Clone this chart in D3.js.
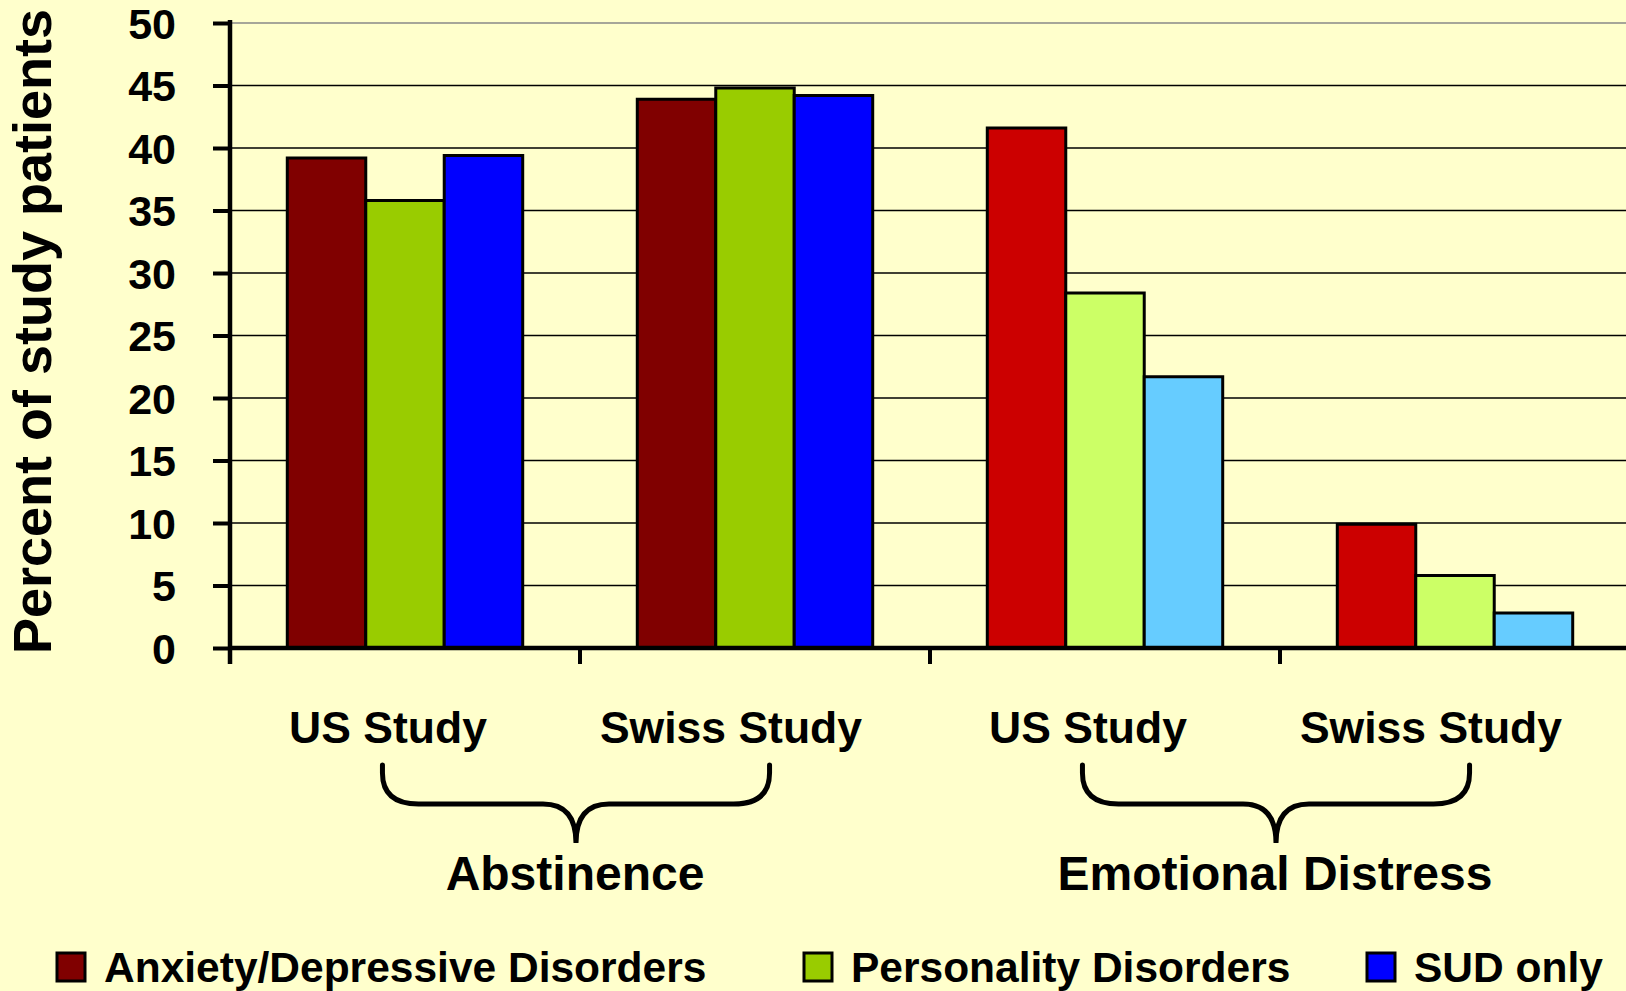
<!DOCTYPE html>
<html>
<head>
<meta charset="utf-8">
<script src="https://cdn.jsdelivr.net/npm/d3@7"></script>
<style>
  html, body { margin: 0; padding: 0; background: #FFFFCC; overflow: hidden; }
  text { font-family: "Liberation Sans", Arial, sans-serif; font-weight: bold; fill: #000; }
</style>
</head>
<body>
<div id="chart"></div>
<script>
// data
const studyLabels = ["US Study", "Swiss Study", "US Study", "Swiss Study"];
const measureLabels = ["Abstinence", "Emotional Distress"];
const seriesNames = ["Anxiety/Depressive Disorders", "Personality Disorders", "SUD only"];
const abstinenceUS = [39.2, 35.8, 39.4];
const abstinenceSwiss = [43.9, 44.8, 44.2];
const distressUS = [41.6, 28.4, 21.7];
const distressSwiss = [9.9, 5.8, 2.8];
const yTicks = [0, 5, 10, 15, 20, 25, 30, 35, 40, 45, 50];
const abstinenceColors = ["#800000", "#99CC00", "#0000FF"];
const distressColors = ["#CC0000", "#CCFF66", "#66CCFF"];

const groups = [
    {measure: 0, study: studyLabels[0], values: abstinenceUS, colors: abstinenceColors},
    {measure: 0, study: studyLabels[1], values: abstinenceSwiss, colors: abstinenceColors},
    {measure: 1, study: studyLabels[2], values: distressUS, colors: distressColors},
    {measure: 1, study: studyLabels[3], values: distressSwiss, colors: distressColors}
];

// set dimensions
const width = 1626,
    height = 991,
    margin = {top: 23, left: 230, bottom: 648};

const svg = d3.select("#chart")
    .append("svg")
    .attr("width", width)
    .attr("height", height);

svg.append("rect")
    .attr("width", width)
    .attr("height", height)
    .attr("fill", "#FFFFCC");

// scales
const y = d3.scaleLinear()
    .domain([0, 50])
    .range([margin.bottom, margin.top]);

const x0 = d3.scaleBand()
    .domain(d3.range(groups.length))
    .range([margin.left, margin.left + 350 * 4])
    .padding(0);

const x1 = d3.scaleBand()
    .domain(seriesNames)
    .range([0, x0.bandwidth()])
    .paddingInner(0)
    .paddingOuter(0.73);

// gridlines
svg.append("g")
    .selectAll("line")
    .data(yTicks.filter(d => d > 0))
    .enter()
    .append("line")
    .attr("x1", margin.left)
    .attr("x2", width)
    .attr("y1", d => y(d))
    .attr("y2", d => y(d))
    .attr("stroke", d => d === 50 ? "#888" : "#000")
    .attr("stroke-width", 1.5);

// bars
const groupSel = svg.selectAll(".group")
    .data(groups)
    .enter()
    .append("g")
    .attr("class", "group")
    .attr("transform", (d, i) => `translate(${x0(i)},0)`);

groupSel.selectAll("rect")
    .data(d => d.values.map((v, j) => ({name: seriesNames[j], value: v, color: d.colors[j]})))
    .enter()
    .append("rect")
    .attr("x", d => x1(d.name))
    .attr("width", x1.bandwidth())
    .attr("y", d => y(d.value))
    .attr("height", d => y(0) - y(d.value))
    .attr("fill", d => d.color)
    .attr("stroke", "#000")
    .attr("stroke-width", 3);

// y axis
const yAxis = d3.axisLeft(y)
    .tickValues(yTicks)
    .tickSize(17)
    .tickSizeOuter(0)
    .tickPadding(37);

const yG = svg.append("g")
    .attr("transform", `translate(${margin.left},0)`)
    .call(yAxis);
yG.select(".domain").remove();
yG.selectAll("line").attr("stroke", "#000").attr("stroke-width", 4);
yG.selectAll("text")
    .style("font-family", "'Liberation Sans', Arial, sans-serif")
    .style("font-weight", "bold")
    .style("font-size", "43px")
    .attr("dy", "0.36em");

svg.append("line")
    .attr("x1", margin.left).attr("x2", margin.left)
    .attr("y1", margin.top - 3).attr("y2", margin.bottom + 16)
    .attr("stroke", "#000").attr("stroke-width", 4.5);

// x axis
svg.append("line")
    .attr("x1", margin.left - 2).attr("x2", width)
    .attr("y1", margin.bottom).attr("y2", margin.bottom)
    .attr("stroke", "#000").attr("stroke-width", 4.5);

svg.append("g")
    .selectAll("line")
    .data(groups.slice(1))
    .enter()
    .append("line")
    .attr("x1", (d, i) => x0(i + 1))
    .attr("x2", (d, i) => x0(i + 1))
    .attr("y1", margin.bottom)
    .attr("y2", margin.bottom + 16)
    .attr("stroke", "#000")
    .attr("stroke-width", 4);

// y axis title
svg.append("text")
    .attr("transform", `translate(51,${(margin.top + margin.bottom) / 2 - 4}) rotate(-90)`)
    .attr("text-anchor", "middle")
    .style("font-size", "54px")
    .text("Percent of study patients");

// study labels
svg.append("g")
    .selectAll("text")
    .data(groups)
    .enter()
    .append("text")
    .attr("x", (d, i) => x0(i) + x0.bandwidth() / 2 - (i % 2 ? 24 : 17))
    .attr("y", 743)
    .attr("text-anchor", "middle")
    .style("font-size", "44.5px")
    .text(d => d.study);

// braces
const brace = (cx, hw) => {
    const y0 = 765, y1 = 804, y2 = 843;
    return `M${cx - hw},${y0} L${cx - hw},${y0 + 8} Q${cx - hw},${y1} ${cx - hw + 36},${y1}` +
        ` L${cx - 33},${y1} Q${cx},${y1} ${cx},${y2} Q${cx},${y1} ${cx + 33},${y1}` +
        ` L${cx + hw - 36},${y1} Q${cx + hw},${y1} ${cx + hw},${y0 + 8} L${cx + hw},${y0}`;
};

svg.append("g")
    .selectAll("path")
    .data(measureLabels)
    .enter()
    .append("path")
    .attr("d", (d, m) => brace(x0(2 * m + 1) - 4, x0.bandwidth() * 0.553))
    .attr("fill", "none")
    .attr("stroke", "#000")
    .attr("stroke-width", 5)
    .attr("stroke-linecap", "round");

svg.append("g")
    .selectAll("text")
    .data(measureLabels)
    .enter()
    .append("text")
    .attr("x", (d, m) => x0(2 * m + 1) - 5)
    .attr("y", 890)
    .attr("text-anchor", "middle")
    .style("font-size", "48px")
    .text(d => d);

// legend
const legendX = [57, 804, 1367];
const legend = svg.append("g")
    .selectAll("g")
    .data(seriesNames)
    .enter()
    .append("g")
    .attr("transform", (d, i) => `translate(${legendX[i]},953)`);

legend.append("rect")
    .attr("width", 28)
    .attr("height", 28)
    .attr("fill", (d, i) => abstinenceColors[i])
    .attr("stroke", "#000")
    .attr("stroke-width", 3);

legend.append("text")
    .attr("x", 47)
    .attr("y", 29)
    .style("font-size", "42.5px")
    .text(d => d);
</script>
</body>
</html>
